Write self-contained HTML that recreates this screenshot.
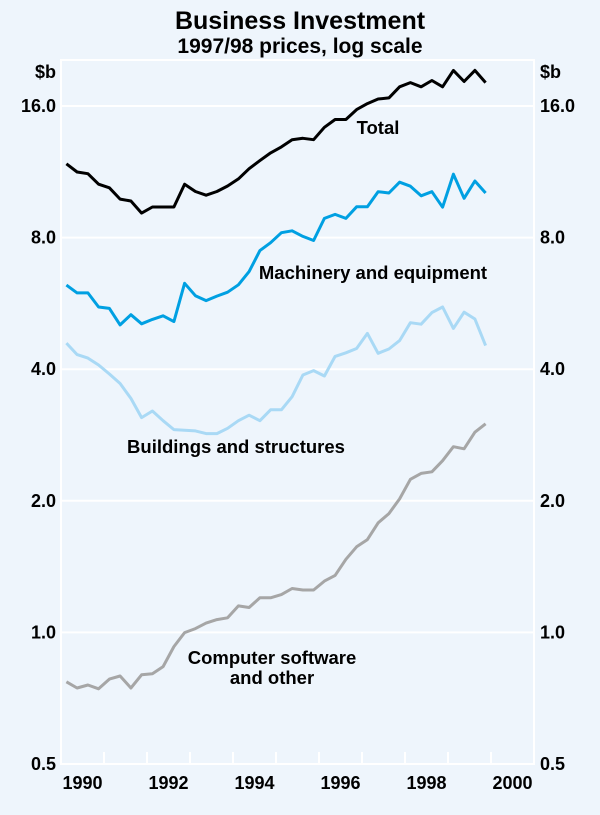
<!DOCTYPE html>
<html><head><meta charset="utf-8"><style>
body{margin:0;background:#eef5fc;}
svg{display:block;font-family:"Liberation Sans",Arial,sans-serif;}
</style></head><body>
<svg width="600" height="815" viewBox="0 0 600 815">
<rect x="0" y="0" width="600" height="815" fill="#eef5fc"/>
<text x="300" y="29" text-anchor="middle" font-size="25" font-weight="bold">Business Investment</text>
<text x="300" y="53" text-anchor="middle" font-size="21" font-weight="bold">1997/98 prices, log scale</text>
<text x="56" y="78" text-anchor="end" font-size="18" font-weight="bold">$b</text>
<text x="540" y="78" font-size="18" font-weight="bold">$b</text>
<g id="grid"></g>
<g id="axes"></g>
<g id="series"></g>
<text x="378" y="134" text-anchor="middle" font-size="18.5" font-weight="bold">Total</text>
<text x="373" y="279" text-anchor="middle" font-size="18.5" font-weight="bold">Machinery and equipment</text>
<text x="236" y="453" text-anchor="middle" font-size="18.5" font-weight="bold">Buildings and structures</text>
<text x="272" y="664" text-anchor="middle" font-size="18.5" font-weight="bold">Computer software</text>
<text x="272" y="684" text-anchor="middle" font-size="18.5" font-weight="bold">and other</text>
</svg>
<script>
const yTicks=[0.5,1,2,4,8,16];
const yTickLabels=["0.5","1.0","2.0","4.0","8.0","16.0"];
const xYears=[1990,1991,1992,1993,1994,1995,1996,1997,1998,1999,2000];
const xLabels=["1990","1992","1994","1996","1998","2000"];
const startYear=1990;
const total=[11.8,11.3,11.2,10.6,10.4,9.8,9.7,9.1,9.4,9.4,9.4,10.6,10.2,10.0,10.2,10.5,10.9,11.5,12.0,12.5,12.9,13.4,13.5,13.4,14.3,14.9,14.9,15.7,16.2,16.6,16.7,17.7,18.1,17.7,18.3,17.7,19.3,18.2,19.3,18.1];
const machinery=[6.23,5.98,5.98,5.55,5.51,5.05,5.33,5.08,5.20,5.30,5.14,6.29,5.89,5.74,5.88,6.00,6.24,6.69,7.47,7.79,8.21,8.29,8.05,7.88,8.85,9.04,8.85,9.41,9.41,10.19,10.12,10.71,10.49,9.97,10.19,9.39,11.17,9.84,10.78,10.12];
const buildings=[4.59,4.32,4.24,4.09,3.90,3.71,3.43,3.10,3.21,3.05,2.91,2.90,2.89,2.85,2.85,2.93,3.05,3.14,3.05,3.23,3.23,3.46,3.88,3.97,3.86,4.28,4.36,4.46,4.83,4.35,4.45,4.65,5.11,5.07,5.39,5.55,4.96,5.40,5.21,4.53];
const software=[0.771,0.746,0.758,0.743,0.782,0.795,0.746,0.800,0.804,0.835,0.928,0.999,1.02,1.05,1.07,1.08,1.15,1.14,1.20,1.20,1.22,1.26,1.25,1.25,1.31,1.35,1.47,1.57,1.63,1.78,1.87,2.02,2.24,2.31,2.33,2.47,2.66,2.63,2.87,3.00];

const L=61,R=534,T=60,B=764;
const yearW=(R-L)/11;
function xs(t){return L+(t-startYear)*yearW;}
function ys(v){return 106+131.6*Math.log2(16/v);}
const NS="http://www.w3.org/2000/svg";
function mk(tag,attrs,parent){const e=document.createElementNS(NS,tag);for(const k in attrs)e.setAttribute(k,attrs[k]);parent.appendChild(e);return e;}
const grid=document.getElementById('grid'),axes=document.getElementById('axes'),series=document.getElementById('series');
yTicks.forEach((v,i)=>{
  if(v>0.5){const g=mk('line',{x1:L,x2:R,y1:ys(v),y2:ys(v),stroke:'#fff','stroke-width':2},grid);
  
  }
  const a=mk('text',{x:56,y:ys(v)+6,'text-anchor':'end','font-size':18,'font-weight':'bold'},axes);a.textContent=yTickLabels[i];
  
  
  const b=mk('text',{x:540,y:ys(v)+6,'font-size':18,'font-weight':'bold'},axes);b.textContent=yTickLabels[i];
  
  
});
const frame=mk('rect',{x:L,y:T,width:R-L,height:B-T,fill:'none',stroke:'#fff','stroke-width':2},grid);


xYears.forEach(y=>{if(y>startYear){const t=mk('line',{x1:xs(y),x2:xs(y),y1:B,y2:B-12,stroke:'#fff','stroke-width':2},grid);

}});
xLabels.forEach(l=>{const t=mk('text',{x:xs(+l+0.5),y:789,'text-anchor':'middle','font-size':18,'font-weight':'bold'},axes);t.textContent=l;

});
function line(data,color,name){
  const pts=data.map((v,i)=>xs(startYear+(i+0.5)/4).toFixed(1)+','+ys(v).toFixed(1)).join(' ');
  const p=mk('polyline',{points:pts,fill:'none',stroke:color,'stroke-width':3,'stroke-linejoin':'round'},series);
  
  
}
line(software,'#a6a6a6','line-software');
line(buildings,'#a9d9f5','line-buildings');
line(machinery,'#00a0e2','line-machinery');
line(total,'#000','line-total');
</script>
</body></html>
